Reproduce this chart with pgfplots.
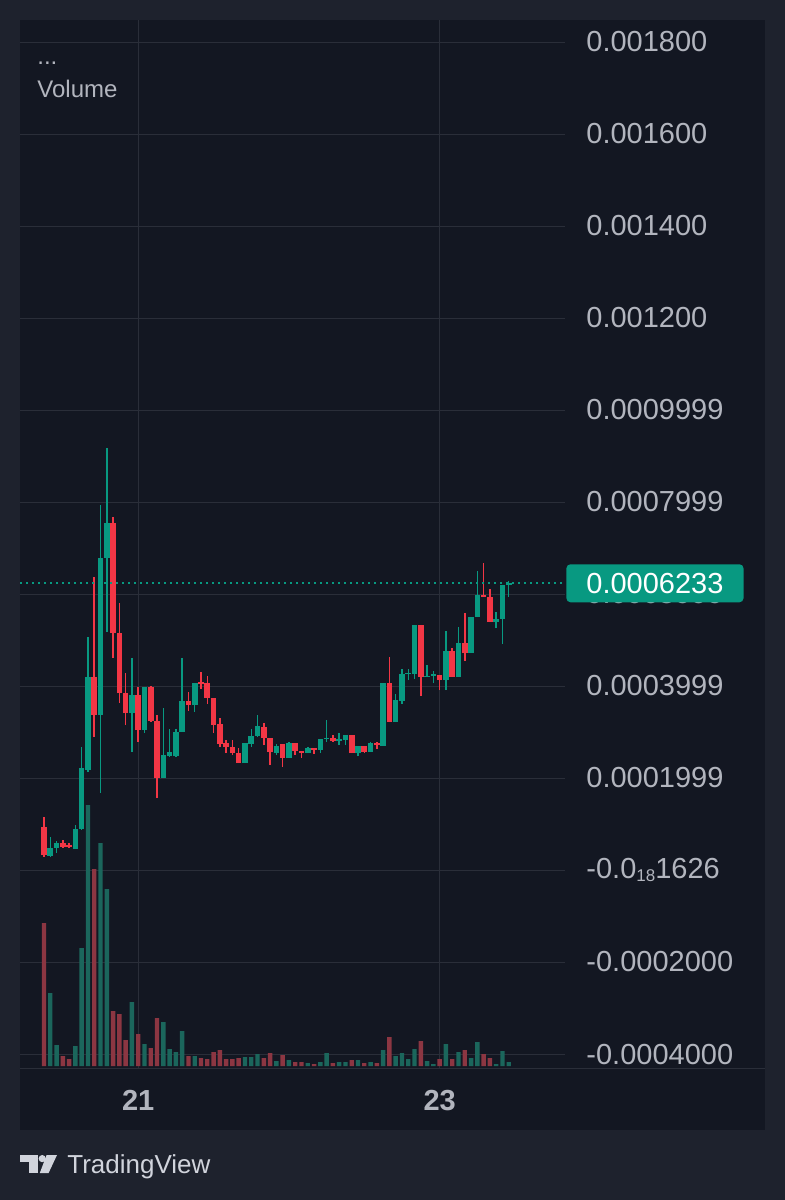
\documentclass[border=0pt]{standalone}
\usepackage{fontspec}
\setmainfont{Liberation Sans}
\usepackage{pgfplots}
\usepackage{pgfplotstable}
\pgfplotsset{compat=1.18}

\definecolor{outerbg}{HTML}{1E222D}
\definecolor{panelbg}{HTML}{131722}
\definecolor{gridc}{HTML}{2A2E39}
\definecolor{txt}{HTML}{B2B5BE}
\definecolor{upc}{HTML}{089981}
\definecolor{downc}{HTML}{F23645}
\definecolor{upvol}{HTML}{1B665C}
\definecolor{downvol}{HTML}{8C3642}
\definecolor{logoc}{HTML}{D1D4DC}

% hourly candles, i = candle index; o h l c = prices, v = volume (relative)
\pgfplotstableread{
i o h l c v
1 0.0000304 0.0000724 0.0000283 0.0000478 73
2 0.0000478 0.0000630 0.0000370 0.0000587 21
5 0.0000457 0.0000978 0.0000457 0.0000891 20
6 0.0000891 0.0002674 0.0000870 0.0002217 118
7 0.0002174 0.0005065 0.0002130 0.0004196 261
9 0.0003370 0.0007935 0.0001674 0.0006783 223
10 0.0006783 0.0009174 0.0005174 0.0007543 177
14 0.0003413 0.0004609 0.0002565 0.0003804 64
16 0.0003043 0.0003978 0.0002978 0.0003978 22
19 0.0002000 0.0003522 0.0002000 0.0002500 44
20 0.0002478 0.0003065 0.0002457 0.0002565 17
21 0.0002478 0.0003065 0.0002457 0.0003000 14
22 0.0003000 0.0004609 0.0003000 0.0003674 35
24 0.0003587 0.0004065 0.0003435 0.0004065 10
32 0.0002326 0.0002761 0.0002326 0.0002761 9
33 0.0002739 0.0003065 0.0002674 0.0002913 9
34 0.0002913 0.0003370 0.0002891 0.0003130 12
37 0.0002543 0.0002739 0.0002500 0.0002696 5
39 0.0002435 0.0002783 0.0002435 0.0002761 6
42 0.0002543 0.0002674 0.0002543 0.0002652 3
44 0.0002609 0.0002848 0.0002543 0.0002848 4
45 0.0002848 0.0003261 0.0002783 0.0002870 13
47 0.0002804 0.0002978 0.0002717 0.0002848 4
48 0.0002826 0.0002935 0.0002717 0.0002935 4
50 0.0002543 0.0002696 0.0002478 0.0002696 6
52 0.0002565 0.0002783 0.0002565 0.0002761 4
54 0.0002696 0.0004065 0.0002696 0.0004065 16
56 0.0003217 0.0003826 0.0003217 0.0003696 10
57 0.0003674 0.0004370 0.0003609 0.0004261 13
58 0.0004261 0.0004370 0.0004130 0.0004283 7
59 0.0004261 0.0005326 0.0004152 0.0005326 17
61 0.0004196 0.0004457 0.0004196 0.0004217 5
62 0.0004217 0.0004326 0.0004065 0.0004261 2
64 0.0004130 0.0005196 0.0003913 0.0004761 22
66 0.0004196 0.0005283 0.0004196 0.0004935 14
68 0.0004717 0.0005500 0.0004717 0.0005500 8
69 0.0005500 0.0006500 0.0005500 0.0005978 24
72 0.0005391 0.0005609 0.0005261 0.0005457 2
73 0.0005457 0.0006196 0.0004913 0.0006196 15
74 0.0006196 0.0006283 0.0005935 0.0006233 4
}\up

\pgfplotstableread{
i o h l c v
0 0.0000941 0.0001159 0.0000283 0.0000326 143
3 0.0000587 0.0000652 0.0000478 0.0000500 10
4 0.0000543 0.0000587 0.0000478 0.0000500 7
8 0.0004196 0.0006370 0.0002891 0.0003370 197
11 0.0007543 0.0007674 0.0004609 0.0005152 55
12 0.0005152 0.0005804 0.0003630 0.0003848 52
13 0.0003848 0.0004283 0.0003152 0.0003413 26
15 0.0003804 0.0003978 0.0002783 0.0003043 32
17 0.0003978 0.0004000 0.0003217 0.0003239 18
18 0.0003239 0.0003370 0.0001565 0.0002000 48
23 0.0003674 0.0003870 0.0003457 0.0003587 10
25 0.0004087 0.0004304 0.0003935 0.0004043 8
26 0.0004065 0.0004217 0.0003609 0.0003739 7
27 0.0003739 0.0003739 0.0002978 0.0003152 14
28 0.0003174 0.0003304 0.0002674 0.0002739 16
29 0.0002761 0.0002826 0.0002543 0.0002674 7
30 0.0002674 0.0002826 0.0002500 0.0002543 7
31 0.0002543 0.0002652 0.0002326 0.0002326 8
35 0.0003109 0.0003196 0.0002717 0.0002870 8
36 0.0002870 0.0002870 0.0002283 0.0002565 13
38 0.0002739 0.0002739 0.0002239 0.0002435 11
40 0.0002761 0.0002761 0.0002500 0.0002587 4
41 0.0002587 0.0002587 0.0002435 0.0002543 4
43 0.0002652 0.0002652 0.0002522 0.0002609 2
46 0.0002870 0.0002935 0.0002783 0.0002804 3
49 0.0002935 0.0002935 0.0002543 0.0002543 6
51 0.0002696 0.0002696 0.0002543 0.0002565 3
53 0.0002761 0.0002783 0.0002630 0.0002717 3
55 0.0004065 0.0004630 0.0003217 0.0003217 29
60 0.0005326 0.0005326 0.0003783 0.0004196 25
63 0.0004239 0.0004239 0.0003913 0.0004130 7
65 0.0004761 0.0004826 0.0004196 0.0004196 7
67 0.0004935 0.0005587 0.0004543 0.0004717 16
70 0.0005978 0.0006674 0.0005935 0.0005935 12
71 0.0005935 0.0006109 0.0005391 0.0005391 8
}\down

\pgfplotsset{
  tvframe/.style={scale only axis, width=272.5pt, height=524pt,
    at={(10pt,-534pt)}, anchor=south west, xmin=-3.822, xmax=82.96},
  priceaxis/.style={ymin=-0.00043043, ymax=0.00184783},
  wick/.style={draw=none, mark=none, forget plot,
    error bars/.cd, y dir=plus, y explicit, error mark=none,
    error bar style={line width=0.75pt, draw=#1}},
  body/.style={draw=none, mark=none, forget plot,
    error bars/.cd, y dir=plus, y explicit, error mark=none,
    error bar style={line width=2.8pt, draw=#1}},
}

\begin{document}
\begin{tikzpicture}
\path[use as bounding box] (0,0) rectangle (392.5pt,-600pt);
\fill[outerbg] (0,0) rectangle (392.5pt,-600pt);
\fill[panelbg] (10pt,-10pt) rectangle (382.5pt,-565pt);
\draw[gridc, line width=0.5pt] (10pt,-534pt) -- (382.5pt,-534pt);

% grid and scales
\begin{axis}[tvframe, priceaxis,
    axis line style={draw=none}, major tick style={draw=none},
    xmajorgrids, ymajorgrids, grid style={gridc, line width=0.5pt},
    xtick={15,63}, xticklabels={21,23},
    ytick={-0.0004,-0.0002,0,0.0002,0.0004,0.0006,0.0008,0.0010,0.0012,0.0014,0.0016,0.0018},
    yticklabels={-0.0004000,-0.0002000,{-0.0{\fontsize{8.5}{9}\selectfont\raisebox{-1.5pt}{18}}1626},0.0001999,0.0003999,0.0005999,0.0007999,0.0009999,0.001200,0.001400,0.001600,0.001800},
    scaled y ticks=false,
    yticklabel pos=right,
    yticklabel style={anchor=west, inner sep=0pt, xshift=10.5pt, txt, font=\fontsize{14.5}{16}\selectfont},
    xticklabel style={anchor=base, inner sep=0pt, yshift=-21pt, txt, font=\fontsize{14.5}{16}\selectfont\bfseries},
]
\addplot[draw=none, forget plot] coordinates {(0,0)};
\end{axis}

% volume
\begin{axis}[tvframe, hide axis, ymin=-2, ymax=1046]
\addplot[ybar, bar width=2.2pt, bar shift=0pt, fill=upvol, draw=none] table[x=i, y=v] {\up};
\addplot[ybar, bar width=2.2pt, bar shift=0pt, fill=downvol, draw=none] table[x=i, y=v] {\down};
\end{axis}

% candles
\begin{axis}[tvframe, priceaxis, hide axis, clip=false]
\addplot[wick=upc] table[x=i, y=l, y error plus expr=\thisrow{h}-\thisrow{l}] {\up};
\addplot[wick=downc] table[x=i, y=l, y error plus expr=\thisrow{h}-\thisrow{l}] {\down};
\addplot[body=upc] table[x=i, y=o, y error plus expr={max(\thisrow{c}-\thisrow{o},0.0000022)}] {\up};
\addplot[body=downc] table[x=i, y=c, y error plus expr={max(\thisrow{o}-\thisrow{c},0.0000022)}] {\down};
\addplot[upc, line width=1pt, dash pattern=on 1.1pt off 1.9pt, forget plot] coordinates {(-3.822,0.0006233) (82.96,0.0006233)};
\node[anchor=west, fill=upc, rounded corners=2pt, inner xsep=10pt, minimum height=19pt, text=white,
  font=\fontsize{14.5}{16}\selectfont, xshift=0.5pt] at (axis cs:82.96,0.0006233) {0.0006233};
\end{axis}

% legend text and footer
\node[anchor=base west, txt, inner sep=0pt, font=\fontsize{12}{14}\selectfont] at (18.5pt,-32pt) {...};
\node[anchor=base west, txt, inner sep=0pt, font=\fontsize{12}{14}\selectfont] at (18.5pt,-48.5pt) {Volume};

\fill[logoc] (9.8pt,-577.5pt) rectangle (18.75pt,-581pt);
\fill[logoc] (14.3pt,-581pt) rectangle (18.75pt,-586.5pt);
\fill[logoc] (21.1pt,-579.3pt) circle (1.8pt);
\fill[logoc] (23.3pt,-577.5pt) -- (28.5pt,-577.5pt) -- (24.3pt,-586.5pt) -- (19.9pt,-586.5pt) -- cycle;
\node[anchor=base west, logoc, inner sep=0pt, font=\fontsize{13}{15}\selectfont] at (33.5pt,-586.5pt) {TradingView};
\end{tikzpicture}
\end{document}
